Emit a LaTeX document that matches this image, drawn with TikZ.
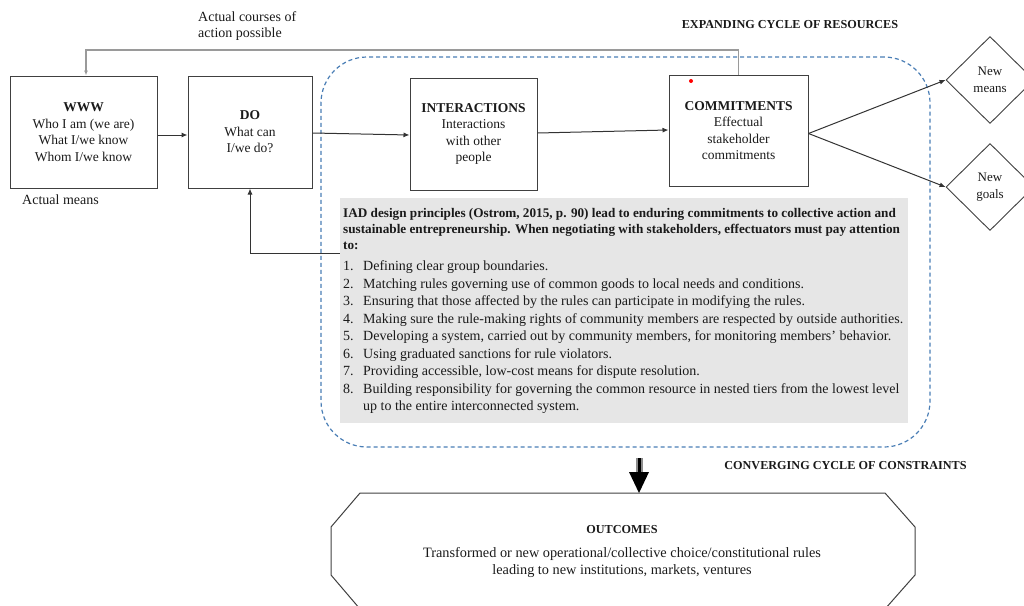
\documentclass[tikz,border=0pt]{standalone}
\usepackage{fontspec}
\setmainfont{Liberation Serif}
\usetikzlibrary{arrows.meta,shapes.geometric}
\definecolor{boxline}{HTML}{404040}
\definecolor{dashblue}{HTML}{4A7EB5}
\definecolor{panelgray}{HTML}{E6E6E6}
\definecolor{fbgray}{HTML}{9A9A9A}
\definecolor{txt}{HTML}{1A1A1A}
\begin{document}
\begin{tikzpicture}[x=1pt,y=-1pt,
  every node/.style={text=txt},
  stagebox/.style={draw=boxline,line width=1pt,inner sep=0pt,align=center,
    font=\fontsize{13.5}{16.5}\selectfont},
  decide/.style={diamond,draw=boxline,line width=0.9pt,inner sep=0pt,align=center,
    minimum width=88pt,minimum height=87pt,font=\fontsize{13}{16.5}\selectfont},
  arr/.style={draw=black!80,line width=1pt,-{Latex[length=6pt,width=5pt]}},
  fbarr/.style={draw=fbgray,line width=1.2pt,-{Latex[length=5pt,width=4pt]}},
  plain/.style={font=\fontsize{14}{16.5}\selectfont,align=left,inner sep=0pt},
  heading/.style={font=\fontsize{12.2}{14}\selectfont\bfseries,inner sep=0pt},
  ptitle/.style={anchor=base west,inner sep=0pt,font=\fontsize{13.2}{16}\selectfont\bfseries},
  listnum/.style={anchor=base west,inner sep=0pt,font=\fontsize{14}{17.5}\selectfont},
  listtxt/.style={anchor=base west,inner sep=0pt,font=\fontsize{14}{17.5}\selectfont},
]
\useasboundingbox (0,0) rectangle (1024,605);

% dashed cycle region
\node[draw=dashblue,dashed,dash pattern=on 4pt off 3pt,line width=1.2pt,
  rounded corners=46pt,minimum width=609pt,minimum height=390pt,inner sep=0pt]
  (cycle) at (625.5,252) {};

% gray panel
\node[fill=panelgray,minimum width=568pt,minimum height=225pt,inner sep=0pt]
  (panel) at (624,310.5) {};

% boxes
\node[stagebox,minimum width=147pt,minimum height=112pt] (www) at (83.5,132)
  {\textbf{WWW}\\Who I am (we are)\\What I/we know\\Whom I/we know};
\node[stagebox,minimum width=124pt,minimum height=112pt] (do) at (250,132)
  {\textbf{DO}\\What can\\I/we do?};
\node[stagebox,minimum width=127pt,minimum height=112pt] (inter) at (473.5,134)
  {\textbf{INTERACTIONS}\\Interactions\\with other\\people};
\node[stagebox,minimum width=139pt,minimum height=111pt] (comm) at (738.5,130.5)
  {\textbf{COMMITMENTS}\\Effectual\\stakeholder\\commitments};
\fill[red] (691,81) circle (2pt);

\node[decide] (means) at (990,80) {New\\means};
\node[decide] (goals) at (990,187) {New\\goals};

% labels
\node[plain,anchor=west] (acm) at (22,200) {Actual means};
\node[plain,anchor=north west] (acp) at (198,11) {Actual courses of\\action possible};
\node[heading] (exp) at (790,25) {EXPANDING CYCLE OF RESOURCES};
\node[heading] (conv) at (845.5,466) {CONVERGING CYCLE OF CONSTRAINTS};

% panel text
\node[ptitle] (pt1) at (343,217) {IAD design principles (Ostrom, 2015, p. 90) lead to enduring commitments to collective action and};
\node[ptitle] (pt2) at (343,233) {sustainable entrepreneurship. When negotiating with stakeholders, effectuators must pay attention};
\node[ptitle] (pt3) at (343,249) {to:};
\node[listnum] (n1) at (343,270.5) {1.};
\node[listtxt] (t1) at (363,270.5) {Defining clear group boundaries.};
\node[listnum] (n2) at (343,288) {2.};
\node[listtxt] (t2) at (363,288) {Matching rules governing use of common goods to local needs and conditions.};
\node[listnum] (n3) at (343,305.5) {3.};
\node[listtxt] (t3) at (363,305.5) {Ensuring that those affected by the rules can participate in modifying the rules.};
\node[listnum] (n4) at (343,323) {4.};
\node[listtxt] (t4) at (363,323) {Making sure the rule-making rights of community members are respected by outside authorities.};
\node[listnum] (n5) at (343,340.5) {5.};
\node[listtxt] (t5) at (363,340.5) {Developing a system, carried out by community members, for monitoring members’ behavior.};
\node[listnum] (n6) at (343,358) {6.};
\node[listtxt] (t6) at (363,358) {Using graduated sanctions for rule violators.};
\node[listnum] (n7) at (343,375.5) {7.};
\node[listtxt] (t7) at (363,375.5) {Providing accessible, low-cost means for dispute resolution.};
\node[listnum] (n8) at (343,393) {8.};
\node[listtxt] (t8) at (363,393) {Building responsibility for governing the common resource in nested tiers from the lowest level};
\node[listtxt] (t9) at (363,410.5) {up to the entire interconnected system.};

% outcomes octagon
\draw[draw=boxline,line width=1pt] (360,493) -- (885,493) -- (915,527) -- (915,575)
  -- (885,609) -- (360,609) -- (331,575) -- (331,527) -- cycle;
\coordinate (outtop) at (639,493);
\node[font=\fontsize{12.2}{14}\selectfont\bfseries,inner sep=0pt] (otitle) at (622,530) {OUTCOMES};
\node[font=\fontsize{14.3}{17}\selectfont,align=center,inner sep=0pt] (otext) at (622,562)
  {Transformed or new operational/collective choice/constitutional rules\\
   leading to new institutions, markets, ventures};

% connectors
\draw[arr] ([yshift=-3pt]www.east) -- ([yshift=-3pt]do.west);
\draw[arr] ([yshift=-1pt]do.east) -- ([yshift=-1pt]inter.west);
\draw[arr] ([yshift=1pt]inter.east) -- ([yshift=0.5pt]comm.west);
\draw[arr] ([yshift=-3pt]comm.east) -- (means.west);
\draw[arr] ([yshift=-3pt]comm.east) -- (goals.west);
\coordinate (fbtop) at (0,50);
\draw[fbarr] (comm.north) -- (comm.north |- fbtop) -| ([xshift=2.5pt]www.north);
\coordinate (back) at (0,253.5);
\draw[arr] (panel.west |- back) -| (do.south);

% big downward arrow
\coordinate (bigstart) at (639,458);
\draw[line width=7pt,draw=black!45] (bigstart) -- ([yshift=16pt]outtop);
\draw[line width=3pt,draw=black] (bigstart) -- ([yshift=16pt]outtop);
\fill[black] ([shift={(-10pt,21pt)}]outtop) -- ([shift={(10pt,21pt)}]outtop) -- (outtop) -- cycle;
\end{tikzpicture}
\end{document}
